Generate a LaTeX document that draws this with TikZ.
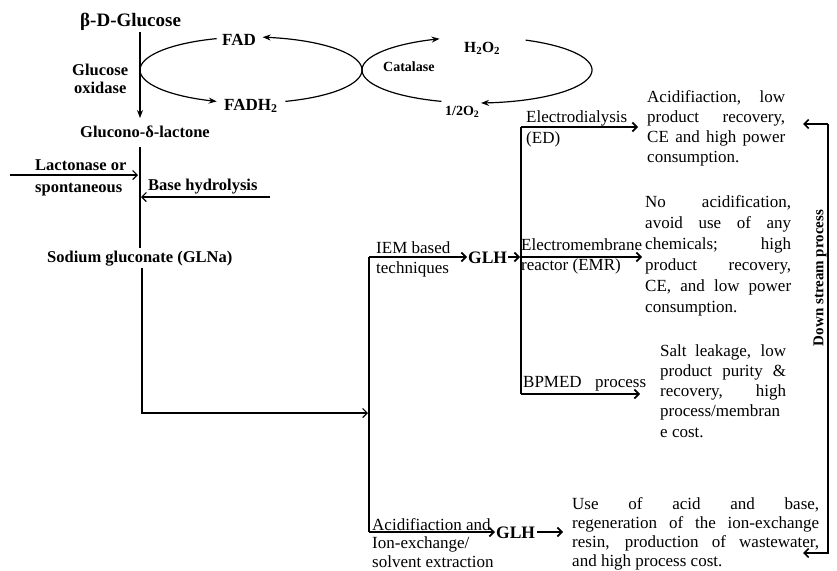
\documentclass[tikz,border=0pt]{standalone}
\usepackage{fontspec}
\setmainfont{Liberation Serif}
\usetikzlibrary{arrows.meta}
\newcommand{\jl}[2]{\hbox{\makebox[#1][s]{#2}}}
\newcommand{\fl}[1]{\hbox{#1}}
\newcommand{\cl}[2]{\hbox to #1{\hss #2\hss}}
\begin{document}
\begin{tikzpicture}[x=1pt,y=-1pt,
  lbl/.style={inner sep=0pt, anchor=base west, font=\fontsize{16.5}{19}\selectfont\bfseries},
  rtx/.style={inner sep=0pt, anchor=base west, font=\fontsize{17}{20}\selectfont},
  glh/.style={inner sep=0pt, anchor=base west, font=\fontsize{17.5}{20}\selectfont\bfseries},
  thin/.style={line width=1.2pt},
  thick/.style={line width=1.7pt},
  barb/.style={-{Straight Barb[length=4.5pt,width=9pt]}},
  stl/.style={-{Stealth[length=8pt,width=6pt]}},
  rstl/.style={{Stealth[length=8pt,width=6pt]}-}]
\useasboundingbox (0,0) rectangle (837,570);

% ---------- text nodes ----------
\node[lbl, font=\fontsize{19}{22}\selectfont\bfseries] (glc) at (80,27) {β-D-Glucose};
\node[lbl] (gox) at (70,75) {\vtop{\baselineskip=18pt\cl{60pt}{Glucose}\cl{60pt}{oxidase}}};
\node[lbl, font=\fontsize{17}{20}\selectfont\bfseries] (fad) at (222,45) {FAD};
\node[lbl, font=\fontsize{17}{20}\selectfont\bfseries] (fadh) at (224,110) {FADH\textsubscript{2}};
\node[lbl, font=\fontsize{14}{16}\selectfont\bfseries] (cat) at (383,71) {Catalase};
\node[lbl, font=\fontsize{15.5}{18}\selectfont\bfseries] (h2o2) at (464,52) {H\textsubscript{2}O\textsubscript{2}};
\node[lbl, font=\fontsize{14}{16}\selectfont\bfseries] (o2) at (445,115) {1/2O\textsubscript{2}};
\node[lbl] (gdl) at (80,137) {Glucono-δ-lactone};
\node[lbl] (lac) at (35,170) {\vtop{\baselineskip=22pt\fl{Lactonase or}\fl{spontaneous}}};
\node[lbl] (bh) at (148,190) {Base hydrolysis};
\node[lbl] (sg) at (47,262) {Sodium gluconate (GLNa)};

\node[rtx] (iem) at (376,253) {\vtop{\baselineskip=20pt\fl{IEM based}\fl{techniques}}};
\node[glh] (glh1) at (468,263) {GLH};
\node[rtx] (ed) at (526,122) {\vtop{\baselineskip=21pt\fl{Electrodialysis}\fl{(ED)}}};
\node[rtx] (emr) at (521,250) {\vtop{\baselineskip=20pt\fl{Electromembrane}\fl{reactor (EMR)}}};
\node[rtx] (bp) at (523,387) {\makebox[123pt][s]{BPMED \ process}};
\node[rtx] (aie) at (372,530) {\vtop{\baselineskip=18.5pt\fl{Acidifiaction and}\fl{Ion-exchange/}\fl{solvent extraction}}};
\node[glh] (glh2) at (496,538) {GLH};

\node[rtx] (p1) at (647,102) {\vtop{\baselineskip=20.3pt
  \jl{138pt}{Acidifiaction, low}\jl{138pt}{product recovery,}\jl{138pt}{CE and high power}\fl{consumption.}}};
\node[rtx] (p2) at (645,207) {\vtop{\baselineskip=21pt
  \jl{146pt}{No acidification,}\jl{146pt}{avoid use of any}\jl{146pt}{chemicals; high}\jl{146pt}{product recovery,}\jl{146pt}{CE, and low power}\fl{consumption.}}};
\node[rtx] (p3) at (660,356) {\vtop{\baselineskip=20.25pt
  \jl{126pt}{Salt leakage, low}\jl{126pt}{product purity \&}\jl{126pt}{recovery, high}\fl{process/membran}\fl{e cost.}}};
\node[rtx] (p4) at (572,509) {\vtop{\baselineskip=19.3pt
  \jl{247pt}{Use of acid and base,}\jl{247pt}{regeneration of the ion-exchange}\jl{247pt}{resin, production of wastewater,}\fl{and high process cost.}}};

\node[inner sep=0pt, rotate=90, font=\fontsize{15}{18}\selectfont\bfseries] (dsp) at (820,278) {Down stream process};

% ---------- coordinates ----------
\coordinate (a1) at (140,32);  \coordinate (a2) at (140,118);
\coordinate (b1) at (140,147); \coordinate (b2) at (140,248);
\coordinate (l1) at (10,175);  \coordinate (l2) at (138,175);
\coordinate (h1) at (270,197); \coordinate (h2) at (141,197);
\coordinate (s1) at (142,268); \coordinate (s2) at (142,413); \coordinate (s3) at (368,413);
\coordinate (k1) at (369,257); \coordinate (k2) at (369,532);
\coordinate (k3) at (467,257); \coordinate (k4) at (495,532);
\coordinate (g1) at (508,257); \coordinate (g2) at (520,257);
\coordinate (g3) at (537,532); \coordinate (g4) at (563,532);
\coordinate (m1) at (521,127); \coordinate (m2) at (521,394); \coordinate (m3) at (521,257);
\coordinate (e1) at (638,127); \coordinate (e2) at (642,257); \coordinate (e3) at (640,394);
\coordinate (d1) at (828,124); \coordinate (d2) at (828,553);
\coordinate (d3) at (803,124); \coordinate (d4) at (803,553);

% ---------- left column ----------
\draw[thin, stl] (a1) -- (a2);
\draw[thin] (b1) -- (b2);
\draw[thin, barb] (l1) -- (l2);
\draw[thin, barb] (h1) -- (h2);
\draw[thin, barb] (s1) -- (s2) -- (s3);

% ---------- cycles ----------
\draw[thin, rstl] plot[domain=-84:0, samples=40, smooth] ({251+111*cos(\x)},{70+33*sin(\x)});
\draw[thin, rstl] plot[domain=108:252, samples=60, smooth] ({251+111*cos(\x)},{70+33*sin(\x)});
\draw[thin] plot[domain=0:72, samples=40, smooth] ({251+111*cos(\x)},{70+33*sin(\x)});
\draw[thin, stl] plot[domain=180:251, samples=40, smooth] ({477+115*cos(\x)},{70+33*sin(\x)});
\draw[thin, stl] plot[domain=-65:88, samples=60, smooth] ({477+115*cos(\x)},{70+33*sin(\x)});
\draw[thin] plot[domain=108:180, samples=40, smooth] ({477+115*cos(\x)},{70+33*sin(\x)});

% ---------- right brackets ----------
\draw[thick] (k1) -- (k2);
\draw[thick, barb] (k1) -- (k3);
\draw[thick, barb] (k2) -- (k4);
\draw[thick, barb] (g1) -- (g2);
\draw[thick, barb] (g3) -- (g4);
\draw[thick] (m1) -- (m2);
\draw[thick, barb] (m1) -- (e1);
\draw[thick, barb] (m3) -- (e2);
\draw[thick, barb] (m2) -- (e3);
\draw[thick, barb] (d3 -| d1) -- (d2) -- (d4);
\draw[thick, barb] (d1) -- (d3);
\end{tikzpicture}
\end{document}
